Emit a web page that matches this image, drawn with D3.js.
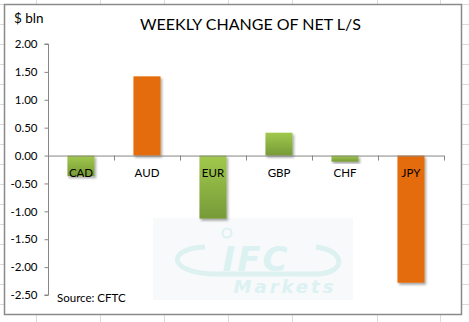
<!DOCTYPE html>
<html><head><meta charset="utf-8">
<script src="https://cdn.jsdelivr.net/npm/d3@7"></script>
<style>html,body{margin:0;padding:0;background:#fff;}svg{display:block;}</style>
</head><body>
<script>
const categories = ["CAD", "AUD", "EUR", "GBP", "CHF", "JPY"];
const values = [-0.37, 1.42, -1.13, 0.41, -0.11, -2.28];
const highlight = [false, true, false, false, false, true];
const yTicks = [2.0, 1.5, 1.0, 0.5, 0.0, -0.5, -1.0, -1.5, -2.0, -2.5];
const title = "WEEKLY CHANGE OF NET L/S";
const unitLabel = "$ bln";
const sourceLabel = "Source: CFTC";

const W = 469, H = 322;
const font = "Lato, 'Open Sans', sans-serif";
const svg = d3.select("body").append("svg").attr("width", W).attr("height", H);
const defs = svg.append("defs");
const g1 = defs.append("linearGradient").attr("id", "green").attr("x1", 0).attr("y1", 0).attr("x2", 0).attr("y2", 1);
g1.append("stop").attr("offset", "0%").attr("stop-color", "#a1c94d");
g1.append("stop").attr("offset", "100%").attr("stop-color", "#779a38");
const f = defs.append("filter").attr("id", "sh").attr("x", "-20%").attr("y", "-20%").attr("width", "150%").attr("height", "150%");
f.append("feDropShadow").attr("dx", 1.5).attr("dy", 2).attr("stdDeviation", 1.3).attr("flood-color", "#000").attr("flood-opacity", 0.35);

// spreadsheet background grid
const vx = [36, 100, 164, 228, 292, 377, 440];
svg.selectAll("line.vg").data(vx).enter().append("line")
  .attr("x1", d => d + 0.5).attr("x2", d => d + 0.5).attr("y1", 0).attr("y2", H)
  .attr("stroke", "#dadada");
const hy = d3.range(4, H, 20);
svg.selectAll("line.hg").data(hy).enter().append("line")
  .attr("x1", 0).attr("x2", W).attr("y1", d => d + 0.5).attr("y2", d => d + 0.5)
  .attr("stroke", "#dadada");

// chart area
svg.append("rect").attr("x", 4.5).attr("y", 4.5).attr("width", 457).attr("height", 310)
  .attr("fill", "#fff").attr("stroke", "#8a8a8a").attr("stroke-width", 1.5);

// watermark
const wm = svg.append("g");
wm.append("rect").attr("x", 153).attr("y", 218).attr("width", 200).attr("height", 82).attr("fill", "#f7f9fb");
wm.append("path").attr("d", "M205,247 C168,248 166,272 212,274 L318,274 C348,272 344,250 316,247")
  .attr("fill", "none").attr("stroke", "#ddf1f1").attr("stroke-width", 5);
wm.append("circle").attr("cx", 227).attr("cy", 233).attr("r", 4.5).attr("fill", "none").attr("stroke", "#ddf1f1").attr("stroke-width", 2);
wm.append("text").attr("x", 256).attr("y", 271).attr("text-anchor", "middle")
  .attr("font-family", "'DejaVu Sans', sans-serif").attr("font-weight", "bold").attr("font-style", "italic")
  .attr("font-size", 34).attr("fill", "#dcf1f1").attr("letter-spacing", 2).text("IFC");
wm.append("text").attr("x", 285).attr("y", 293).attr("text-anchor", "middle")
  .attr("font-family", "'DejaVu Sans', sans-serif").attr("font-weight", "bold").attr("font-style", "italic")
  .attr("font-size", 18).attr("fill", "#dcf1f1").attr("letter-spacing", 3).text("Markets");

// scales
const y = d3.scaleLinear().domain([-2.5, 2.0]).range([295, 44]);
const x = d3.scaleBand().domain(categories).range([48, 444]).paddingInner(0.59).paddingOuter(0.295);
const xb = d3.scaleBand().domain(categories).range([48, 444]).padding(0);

// bars
svg.selectAll("rect.bar").data(categories).enter().append("rect")
  .attr("x", d => x(d)).attr("width", x.bandwidth())
  .attr("y", (d, i) => y(Math.max(0, values[i])))
  .attr("height", (d, i) => Math.abs(y(values[i]) - y(0)))
  .attr("fill", (d, i) => highlight[i] ? "#e46c0a" : "url(#green)")
  .attr("filter", "url(#sh)");

// y axis
const fmt = v => d3.format(".2f")(v).replace("\u2212", "-");
const yAxis = d3.axisLeft(y).tickValues(yTicks).tickFormat(fmt).tickSize(4).tickPadding(7);
const ya = svg.append("g").attr("transform", "translate(48.5,0)").call(yAxis);
ya.select(".domain").attr("stroke", "#868686").attr("d", `M-4,${y(2.0)}H0V${y(-2.5)}H-4`);
ya.selectAll(".tick line").attr("stroke", "#868686");
ya.selectAll(".tick text").attr("font-family", font).attr("font-size", 11.5).attr("fill", "#000");

// x axis line with boundary ticks
const xa = svg.append("g");
xa.append("line").attr("x1", 48).attr("x2", 444).attr("y1", y(0) + 0.5).attr("y2", y(0) + 0.5).attr("stroke", "#868686");
const bounds = categories.map(c => xb(c)).concat([xb.range()[1]]);
xa.selectAll("line.t").data(bounds).enter().append("line")
  .attr("x1", d => Math.round(d) + 0.5).attr("x2", d => Math.round(d) + 0.5)
  .attr("y1", y(0)).attr("y2", y(0) + 5).attr("stroke", "#868686");
xa.selectAll("text").data(categories).enter().append("text")
  .attr("x", d => x(d) + x.bandwidth() / 2).attr("y", y(0) + 21)
  .attr("text-anchor", "middle").attr("font-family", font).attr("font-size", 11.5).attr("fill", "#000")
  .text(d => d);

// texts
svg.append("text").attr("x", 250.5).attr("y", 30).attr("text-anchor", "middle")
  .attr("font-family", font).attr("font-size", 16).attr("fill", "#000").text(title);
svg.append("text").attr("x", 14).attr("y", 23)
  .attr("font-family", font).attr("font-size", 13.5).attr("fill", "#000").text(unitLabel);
svg.append("text").attr("x", 57).attr("y", 302)
  .attr("font-family", font).attr("font-size", 11.5).attr("fill", "#000").text(sourceLabel);
</script>
</body></html>
